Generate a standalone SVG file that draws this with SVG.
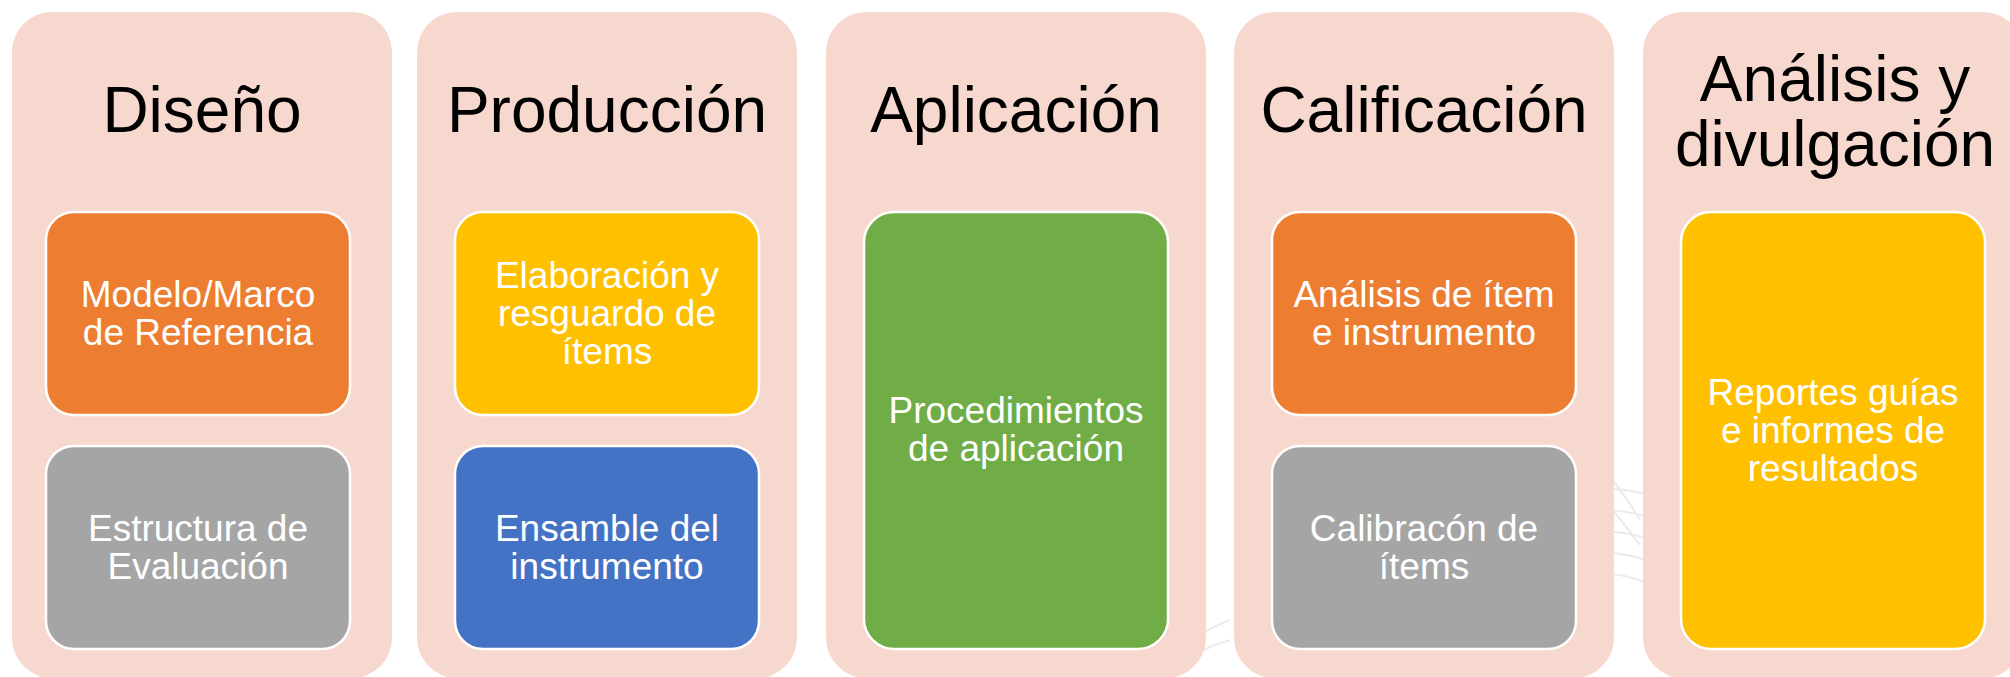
<svg xmlns="http://www.w3.org/2000/svg" width="2010" height="677" viewBox="0 0 2010 677">
  <style>
    .panel { fill: #F7D8CE; }
    .box { stroke: #FFFFFF; stroke-width: 2.5; }
    .title { font-family: "Liberation Sans", Arial, sans-serif; font-size: 64px; fill: #000000; text-anchor: middle; }
    .label { font-family: "Liberation Sans", Arial, sans-serif; font-size: 37px; fill: #FFFFFF; text-anchor: middle; }
    .orange { fill: #ED7D31; }
    .gray { fill: #A5A5A5; }
    .yellow { fill: #FFC000; }
    .blue { fill: #4472C4; }
    .green { fill: #70AD47; }
    .wm { fill: none; stroke: #EBEBEB; stroke-width: 2; }
  </style>
  <rect x="0" y="0" width="2010" height="677" fill="#FFFFFF"/>
  <g id="watermark">
    <path class="wm" d="M1380 677 A220 220 0 0 1 1760 560"/>
    <path class="wm" d="M1400 677 A200 200 0 0 1 1745 575"/>
    <path class="wm" d="M1420 677 A180 180 0 0 1 1730 590"/>
    <path class="wm" d="M1440 677 A160 160 0 0 1 1715 605"/>
    <path class="wm" d="M1460 677 A140 140 0 0 1 1700 620"/>
    <path class="wm" d="M1560 420 Q1610 470 1640 520"/>
    <path class="wm" d="M1545 440 Q1600 490 1640 545"/>
    <path class="wm" d="M1150 677 Q1180 640 1230 620"/>
    <path class="wm" d="M1160 677 Q1195 650 1230 640"/>
  </g>
  <g id="connectors"></g>
  <g id="diseno">
    <rect class="panel" x="12" y="12" width="380" height="666" rx="40"/>
    <text class="title" x="202" y="132">Diseño</text>
    <g id="modelo">
      <rect class="box orange" x="46" y="212" width="304" height="203" rx="28"/>
      <text class="label" x="198" y="307">Modelo/Marco</text>
      <text class="label" x="198" y="345">de Referencia</text>
    </g>
    <g id="estructura">
      <rect class="box gray" x="46" y="446" width="304" height="203" rx="28"/>
      <text class="label" x="198" y="541">Estructura de</text>
      <text class="label" x="198" y="579">Evaluación</text>
    </g>
  </g>
  <g id="produccion">
    <rect class="panel" x="417" y="12" width="380" height="666" rx="40"/>
    <text class="title" x="607" y="132">Producción</text>
    <g id="elaboracion">
      <rect class="box yellow" x="455" y="212" width="304" height="203" rx="28"/>
      <text class="label" x="607" y="288">Elaboración y</text>
      <text class="label" x="607" y="326">resguardo de</text>
      <text class="label" x="607" y="364">ítems</text>
    </g>
    <g id="ensamble">
      <rect class="box blue" x="455" y="446" width="304" height="203" rx="28"/>
      <text class="label" x="607" y="541">Ensamble del</text>
      <text class="label" x="607" y="579">instrumento</text>
    </g>
  </g>
  <g id="aplicacion">
    <rect class="panel" x="826" y="12" width="380" height="666" rx="40"/>
    <text class="title" x="1016" y="132">Aplicación</text>
    <g id="procedimientos">
      <rect class="box green" x="864" y="212" width="304" height="437" rx="30"/>
      <text class="label" x="1016" y="423">Procedimientos</text>
      <text class="label" x="1016" y="461">de aplicación</text>
    </g>
  </g>
  <g id="calificacion">
    <rect class="panel" x="1234" y="12" width="380" height="666" rx="40"/>
    <text class="title" x="1424" y="132">Calificación</text>
    <g id="analisis-item">
      <rect class="box orange" x="1272" y="212" width="304" height="203" rx="28"/>
      <text class="label" x="1424" y="307">Análisis de ítem</text>
      <text class="label" x="1424" y="345">e instrumento</text>
    </g>
    <g id="calibracion">
      <rect class="box gray" x="1272" y="446" width="304" height="203" rx="28"/>
      <text class="label" x="1424" y="541">Calibracón de</text>
      <text class="label" x="1424" y="579">ítems</text>
    </g>
  </g>
  <g id="analisis-divulgacion">
    <rect class="panel" x="1643" y="12" width="380" height="666" rx="40"/>
    <text class="title" x="1835" y="101">Análisis y</text>
    <text class="title" x="1835" y="166">divulgación</text>
    <g id="reportes">
      <rect class="box yellow" x="1681" y="212" width="304" height="437" rx="30"/>
      <text class="label" x="1833" y="405">Reportes guías</text>
      <text class="label" x="1833" y="443">e informes de</text>
      <text class="label" x="1833" y="481">resultados</text>
    </g>
  </g>
</svg>
